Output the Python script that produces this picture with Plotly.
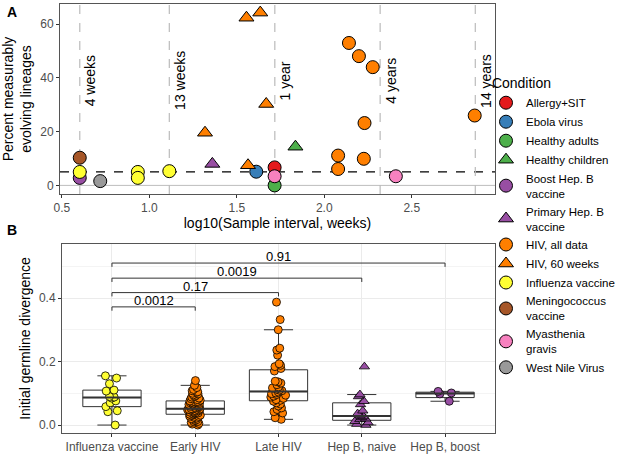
import numpy as np
import plotly.graph_objects as go

# ---- panel A data ----
interval_log10 = [1.716, 1.611, 1.716, 1.835, 0.602, 1.36,
                  2.141, 2.198, 2.277, 2.23, 2.079, 2.226, 2.079, 2.86,
                  1.318, 1.555, 1.634, 1.668, 1.564,
                  0.602, 0.934, 0.934, 1.114,
                  0.602, 1.716, 2.409, 0.719]
pct_evolving = [6.7, 5.1, 0.0, 14.4, 2.8, 8.0,
                53.0, 48.1, 44.0, 23.2, 11.1, 9.9, 6.1, 26.0,
                19.6, 62.4, 64.3, 30.3, 7.5,
                5.0, 5.0, 2.8, 5.3,
                10.3, 3.4, 3.4, 1.6]
point_condition = ["Allergy+SIT", "Ebola virus", "Healthy adults", "Healthy children",
                   "Boost Hep. B vaccine", "Primary Hep. B vaccine",
                   "HIV, all data", "HIV, all data", "HIV, all data", "HIV, all data",
                   "HIV, all data", "HIV, all data", "HIV, all data", "HIV, all data",
                   "HIV, 60 weeks", "HIV, 60 weeks", "HIV, 60 weeks", "HIV, 60 weeks", "HIV, 60 weeks",
                   "Influenza vaccine", "Influenza vaccine", "Influenza vaccine", "Influenza vaccine",
                   "Meningococcus vaccine", "Myasthenia gravis", "Myasthenia gravis", "West Nile Virus"]
condition_order = ["Allergy+SIT", "Ebola virus", "Healthy adults", "Healthy children",
                   "Boost Hep. B vaccine", "Primary Hep. B vaccine", "HIV, all data",
                   "HIV, 60 weeks", "Influenza vaccine", "Meningococcus vaccine",
                   "Myasthenia gravis", "West Nile Virus"]
interval_labels = ["4 weeks", "13 weeks", "1 year", "4 years", "14 years"]
interval_weeks = [4, 13, 52.14, 208.6, 730]
threshold_pct = 5

# ---- panel B data ----
group_names = ["Influenza vaccine", "Early HIV", "Late HIV", "Hep B, naive", "Hep B, boost"]
flu_div = [0.155, 0.148, 0.13, 0.11, 0.107, 0.09, 0.088, 0.085, 0.076, 0.07,
           0.058, 0.045, 0.042, 0.0]
early_hiv_div = [0.0, 0.003, 0.005, 0.008, 0.01, 0.011, 0.014, 0.017, 0.019, 0.02,
                 0.022, 0.025, 0.027, 0.028, 0.03, 0.031, 0.033,
                 0.034, 0.035, 0.037, 0.038, 0.039, 0.04, 0.041, 0.043, 0.044,
                 0.045, 0.046, 0.047, 0.048, 0.049, 0.049, 0.05, 0.05, 0.051,
                 0.052, 0.055, 0.056, 0.058, 0.059, 0.06, 0.062, 0.063, 0.065,
                 0.066, 0.068, 0.069, 0.07, 0.071, 0.072, 0.073, 0.074, 0.076,
                 0.078, 0.08, 0.083, 0.085, 0.088, 0.09, 0.093, 0.095, 0.098,
                 0.1, 0.103, 0.105, 0.108, 0.112, 0.118, 0.125, 0.14]
late_hiv_div = [0.018, 0.023, 0.038, 0.042, 0.049, 0.054, 0.06, 0.066, 0.07, 0.075,
                0.078, 0.08, 0.084, 0.088, 0.091, 0.094, 0.096, 0.099, 0.101, 0.104,
                0.108, 0.11, 0.113, 0.117, 0.12, 0.127, 0.132, 0.136, 0.138, 0.17,
                0.178, 0.184, 0.188, 0.193, 0.22, 0.236, 0.242, 0.30, 0.332, 0.387]
hepb_naive_div = [0.0, 0.003, 0.008, 0.012, 0.018, 0.02, 0.024, 0.027, 0.03, 0.036,
                  0.045, 0.065, 0.075, 0.09, 0.096, 0.184]
hepb_boost_div = [0.075, 0.098, 0.101, 0.106]

cmp_pairs = [("Influenza vaccine", "Early HIV"), ("Influenza vaccine", "Late HIV"),
             ("Influenza vaccine", "Hep B, naive"), ("Influenza vaccine", "Hep B, boost")]
cmp_pvalues = ["0.0012", "0.17", "0.0019", "0.91"]
cmp_levels = [0.372, 0.417, 0.4625, 0.51]

# ---- styles ----
colors = {"Allergy+SIT": "#E41A1C", "Ebola virus": "#377EB8", "Healthy adults": "#4DAF4A",
          "Healthy children": "#4DAF4A", "Boost Hep. B vaccine": "#984EA3",
          "Primary Hep. B vaccine": "#984EA3", "HIV, all data": "#FF7F00",
          "HIV, 60 weeks": "#FF7F00", "Influenza vaccine": "#FFFF33",
          "Meningococcus vaccine": "#A65628", "Myasthenia gravis": "#F781BF",
          "West Nile Virus": "#999999"}
triangles = {"Healthy children", "Primary Hep. B vaccine", "HIV, 60 weeks"}
legend_names = {"Boost Hep. B vaccine": "Boost Hep. B<br>vaccine",
                "Primary Hep. B vaccine": "Primary Hep. B<br>vaccine",
                "Meningococcus vaccine": "Meningococcus<br>vaccine",
                "Myasthenia gravis": "Myasthenia<br>gravis"}
FONT = "Liberation Sans, Arial, sans-serif"
W, H = 617, 454
BOX_W = 0.7

fig = go.Figure()

for cond in condition_order:
    xs = [x for x, c in zip(interval_log10, point_condition) if c == cond]
    ys = [y for y, c in zip(pct_evolving, point_condition) if c == cond]
    tri = cond in triangles
    fig.add_trace(go.Scatter(
        x=xs, y=ys, mode="markers", name=legend_names.get(cond, cond),
        marker=dict(color=colors[cond], size=13,
                    symbol="triangle-up" if tri else "circle",
                    line=dict(color="black", width=1)),
        xaxis="x", yaxis="y", hoverinfo="skip"))

box_data = [flu_div, early_hiv_div, late_hiv_div, hepb_naive_div, hepb_boost_div]
box_colors = ["#FFFF33", "#FF7F00", "#FF7F00", "#984EA3", "#984EA3"]
box_symbols = ["circle", "circle", "circle", "triangle-up", "circle"]
for name, vals, col, sym in zip(group_names, box_data, box_colors, box_symbols):
    fig.add_trace(go.Box(
        x=[name] * len(vals), y=vals, boxpoints="all", jitter=0.28, pointpos=0,
        width=BOX_W, fillcolor="white", line=dict(color="#333333", width=1),
        marker=dict(color=col, symbol=sym, size=9 if sym == "triangle-up" else 8,
                    line=dict(color="black", width=0.8)),
        showlegend=False, xaxis="x2", yaxis="y2", hoverinfo="skip"))

shapes = []
annotations = []

# panel A reference lines
shapes.append(dict(type="line", xref="x domain", yref="y", x0=0, x1=1, y0=0, y1=0,
                   line=dict(color="#bdbdbd", width=1), layer="below"))
shapes.append(dict(type="line", xref="x domain", yref="y", x0=0, x1=1,
                   y0=threshold_pct, y1=threshold_pct,
                   line=dict(color="black", width=1.2, dash="dash"), layer="below"))
for lab, wk in zip(interval_labels, interval_weeks):
    lx = float(np.log10(wk))
    shapes.append(dict(type="line", xref="x", yref="y domain", x0=lx, x1=lx, y0=0, y1=1,
                       line=dict(color="#bbbbbb", width=1.2, dash="dash"), layer="below"))
    annotations.append(dict(x=lx, y=39, xref="x", yref="y", text=lab, textangle=-90,
                            showarrow=False, xanchor="center", yanchor="middle", xshift=10,
                            font=dict(size=14, color="black", family=FONT)))

# thicker median bar, as in ggplot boxplots
for i, vals in enumerate(box_data):
    med = float(np.median(vals))
    shapes.append(dict(type="line", xref="x2", yref="y2", x0=i - BOX_W / 2, x1=i + BOX_W / 2,
                       y0=med, y1=med, line=dict(color="#333333", width=2)))

# panel B comparison brackets
pos = {g: i for i, g in enumerate(group_names)}
for (g1, g2), p, lev in zip(cmp_pairs, cmp_pvalues, cmp_levels):
    a, b = pos[g1], pos[g2]
    for x0, y0, x1, y1 in [(a, lev, b, lev), (a, lev, a, lev - 0.012), (b, lev, b, lev - 0.012)]:
        shapes.append(dict(type="line", xref="x2", yref="y2", x0=x0, x1=x1, y0=y0, y1=y1,
                           line=dict(color="#333333", width=1)))
    annotations.append(dict(x=(a + b) / 2, y=lev, xref="x2", yref="y2", text=p,
                            showarrow=False, yanchor="bottom", yshift=-3,
                            font=dict(size=13, color="black", family=FONT)))

annotations.append(dict(x=5 / W, y=1 - 2 / H, xref="paper", yref="paper", text="<b>A</b>",
                        showarrow=False, xanchor="left", yanchor="top",
                        font=dict(size=14, color="black", family=FONT)))
annotations.append(dict(x=5 / W, y=1 - 220 / H, xref="paper", yref="paper", text="<b>B</b>",
                        showarrow=False, xanchor="left", yanchor="top",
                        font=dict(size=14, color="black", family=FONT)))

axis_common = dict(showline=True, linecolor="#555555", linewidth=1, mirror=True,
                   ticks="outside", ticklen=3, tickcolor="#333333", zeroline=False,
                   automargin=False,
                   tickfont=dict(size=12, color="#4d4d4d", family=FONT),
                   title_font=dict(size=14, color="black", family=FONT))

fig.update_layout(
    width=W, height=H, margin=dict(l=0, r=0, t=0, b=0, autoexpand=False),
    plot_bgcolor="white", paper_bgcolor="white",
    font=dict(family=FONT, color="black"),
    boxmode="overlay",
    xaxis=dict(domain=[60 / W, 495 / W], range=[0.489, 2.976], anchor="y",
               tickvals=[0.5, 1.0, 1.5, 2.0, 2.5], tickformat=".1f", showgrid=False,
               title=dict(text="log10(Sample interval, weeks)", standoff=0), **axis_common),
    yaxis=dict(domain=[1 - 194 / H, 1 - 4 / H], range=[-3.2, 67.5], anchor="x",
               tickvals=[0, 20, 40, 60], showgrid=False,
               title=dict(text="Percent measurably<br>evolving lineages", standoff=6), **axis_common),
    xaxis2=dict(domain=[62 / W, 495 / W], range=[-0.6, 4.6], anchor="y2",
                type="category", categoryorder="array", categoryarray=group_names,
                showgrid=True, gridcolor="#ebebeb", **axis_common),
    yaxis2=dict(domain=[1 - 433 / H, 1 - 244 / H], range=[-0.025, 0.57], anchor="x2",
                tickvals=[0.0, 0.2, 0.4], tickformat=".1f", showgrid=True, gridcolor="#ebebeb",
                minor=dict(tickvals=[0.1, 0.3, 0.5], showgrid=True, gridcolor="#f4f4f4", ticks=""),
                title=dict(text="Initial germline divergence", standoff=5), **axis_common),
    legend=dict(x=486 / W, y=1 - 70 / H, xanchor="left", yanchor="top",
                title=dict(text=" Condition", font=dict(size=14, color="black", family=FONT)),
                font=dict(size=11.5, color="black", family=FONT),
                bgcolor="rgba(0,0,0,0)", tracegroupgap=0),
    shapes=shapes, annotations=annotations,
)

# page body has a default 8px margin; drop it so the figure sits at the window corner
fig.write_html("out.html", config={"displayModeBar": False},
               post_script="document.body.style.margin='0';")
